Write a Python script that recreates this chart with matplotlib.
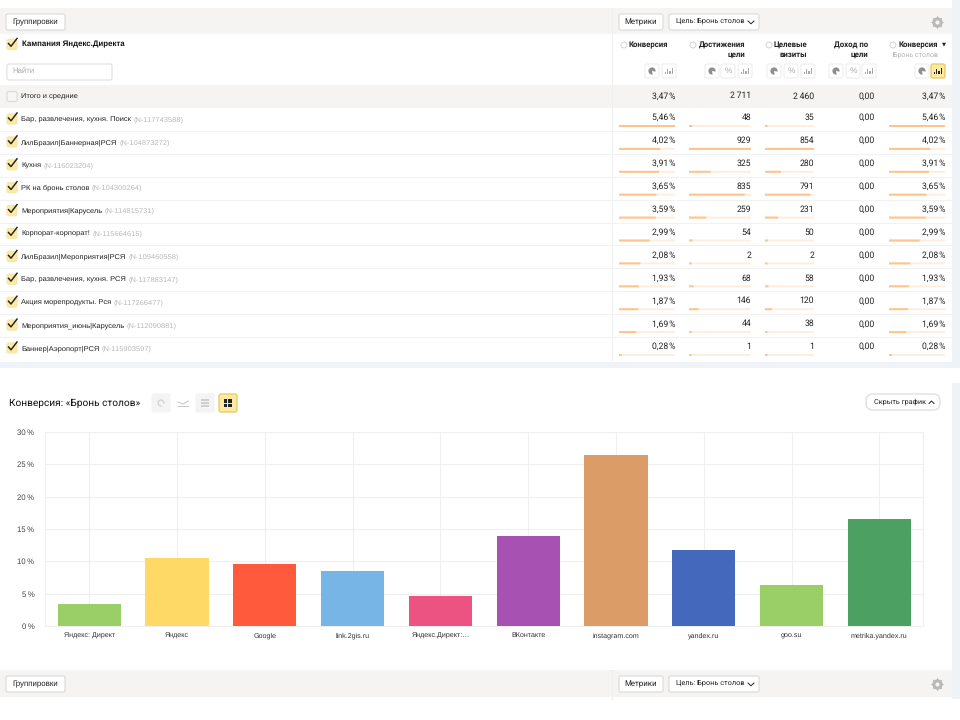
# -*- coding: utf-8 -*-
import matplotlib
matplotlib.use('Agg')
import matplotlib.pyplot as plt
from matplotlib.patches import FancyBboxPatch, Rectangle, Wedge, Circle

plt.rcParams['font.family'] = ['Liberation Sans', 'DejaVu Sans']
plt.rcParams['text.hinting'] = 'no_hinting'

# таблица
campaigns = ['Бар, развлечения, кухня. Поиск', 'ЛилБразил|Баннерная|РСЯ', 'Кухня', 'РК на бронь столов',
             'Мероприятия|Карусель', 'Корпорат-корпорат!', 'ЛилБразил|Мероприятия|РСЯ',
             'Бар, развлечения, кухня. РСЯ', 'Акция морепродукты. Рся', 'Мероприятия_июнь|Карусель',
             'Баннер|Аэропорт|РСЯ']
campaign_ids = ['N-117743588', 'N-104873272', 'N-116023204', 'N-104300264', 'N-114815731', 'N-115664615',
                'N-109460558', 'N-117883147', 'N-117266477', 'N-112090881', 'N-115903597']
conversion = [5.46, 4.02, 3.91, 3.65, 3.59, 2.99, 2.08, 1.93, 1.87, 1.69, 0.28]
goals = [48, 929, 325, 835, 259, 54, 2, 68, 146, 44, 1]
visits = [35, 854, 280, 791, 231, 50, 2, 58, 120, 38, 1]
income = [0, 0, 0, 0, 0, 0, 0, 0, 0, 0, 0]
total_conversion = 3.47
total_goals = 2711
total_visits = 2460
total_income = 0

# график
sources = ['Яндекс: Директ', 'Яндекс', 'Google', 'link.2gis.ru', 'Яндекс.Директ:…', 'ВКонтакте',
           'instagram.com', 'yandex.ru', 'goo.su', 'metrika.yandex.ru']
source_values = [3.47, 10.5, 9.6, 8.5, 4.6, 13.9, 26.4, 11.7, 6.3, 16.6]
source_colors = ['#99cf66', '#ffd966', '#ff5a3c', '#76b5e6', '#ec5383', '#a752b3', '#dc9c68', '#4468bb',
                 '#99cf66', '#4ca162']
y_ticks = [0, 5, 10, 15, 20, 25, 30]

GREY = '#f5f4f2'
BLUE = '#eff2f7'
YELLOW = '#fde9a0'
TEXT = '#222222'
NUM_FONT = ['Roboto', 'DejaVu Sans']


def pct(v):
    return ('%.2f' % v).replace('.', ',') + '\u200a%'


def thousands(v):
    return ('{:,}'.format(v)).replace(',', '\u2009')


def money(v):
    return ('%.2f' % v).replace('.', ',')


fig = plt.figure(figsize=(9.6, 7.2), dpi=100)

ui = fig.add_axes([0, 0, 1, 1], zorder=1)
ui.set_xlim(0, 960)
ui.set_ylim(720, 0)
ui.axis('off')


def band(x0, y0, x1, y1, color):
    ui.add_patch(Rectangle((x0, y0), x1 - x0, y1 - y0, fc=color, ec='none'))


def box(x0, y0, x1, y1, fc='white', ec='#dddddd', r=2):
    ui.add_patch(FancyBboxPatch((x0 + r, y0 + r), x1 - x0 - 2 * r, y1 - y0 - 2 * r,
                                boxstyle='round,pad=%s,rounding_size=%s' % (r, r),
                                fc=fc, ec=ec, lw=0.9, mutation_aspect=1))


def checkbox(x, y, checked=True):
    box(x - 5, y - 4.5, x + 5, y + 5.5, fc=YELLOW if checked else '#f6f6f6', ec='#f5e6b0' if checked else '#dddddd')
    if checked:
        ui.plot([x - 3.5, x - 1, x + 5], [y - 0.5, y + 2.3, y - 5.5], color='#222222', lw=1.05)


def chart_icon(x0, y0, size, kind, active=False):
    box(x0, y0, x0 + size, y0 + size, fc=YELLOW if active else 'white', ec='#e8c860' if active else '#f0f0f0')
    cx = x0 + size / 2
    cy = y0 + size / 2
    col = '#222222' if active else '#a8a8a8'
    if kind == 'pie':
        ui.add_patch(Wedge((cx, cy), 3.6, 80, 370, fc='#8f8f8f', ec='none'))
    elif kind == 'pct':
        ui.text(cx, cy, '%', fontsize=6, color='#aaaaaa', ha='center', va='center')
    else:
        for k, h in enumerate([2, 5, 3, 6]):
            ui.add_patch(Rectangle((cx - 4 + k * 2.2, cy + 3 - h), 1.2, h, fc=col, ec='none'))


def gear(x, y):
    ui.plot([x], [y], marker=(8, 1, 0), ms=10, color='#b9b9b9', mec='none')
    ui.plot([x], [y], marker='o', ms=7.5, color='#b9b9b9', mec='none')
    ui.plot([x], [y], marker='o', ms=3, color=GREY, mec='none')


# фон
band(952, 0, 960, 368, BLUE)
band(0, 362, 952, 368, BLUE)
band(0, 8, 952, 34, GREY)
band(0, 85, 952, 108, GREY)
band(952, 383, 960, 699, BLUE)
band(0, 670, 952, 697, GREY)
ui.plot([612, 612], [8, 360], color='#f0f0f0', lw=0.8)
ui.plot([612, 612], [670, 699], color='#f0f0f0', lw=0.8)

# верхняя панель
for top in (14, 676):
    box(6, top, 65, top + 16)
    ui.text(35.5, top + 8, 'Группировки', fontsize=5.7, color=TEXT, ha='center', va='center')
    box(619, top, 663, top + 16)
    ui.text(641, top + 8, 'Метрики', fontsize=5.7, color=TEXT, ha='center', va='center', family=NUM_FONT)
    box(669, top, 759, top + 16)
    ui.text(676, top + 8, 'Цель: Бронь столов', fontsize=5.3, color=TEXT, ha='left', va='center', family=NUM_FONT)
    ui.plot([748, 751, 754], [top + 7, top + 9.8, top + 7], color=TEXT, lw=0.7)
    gear(937, top + 8)

# шапка таблицы
checkbox(12, 44)
ui.text(22, 44.5, 'Кампания Яндекс.Директа', fontsize=5.7, fontweight='bold', color='#111111', va='center')
box(7, 64, 112, 80, ec='#e3e3e3')
ui.text(12, 72, 'Найти', fontsize=5.6, color='#aaaaaa', va='center')

col_right = [675, 751, 814, 875, 945]
head_right = [668, 745, 807, 868, 938]
head_lines = [['Конверсия'], ['Достижения', 'цели'], ['Целевые', 'визиты'], ['Доход по', 'цели'], ['Конверсия']]
head_help = [624, 693, 769, None, 893]
for i in range(5):
    for j, line in enumerate(head_lines[i]):
        ui.text(head_right[i], 45 + j * 9.5, line, fontsize=5.6, fontweight='bold', color='#222222', ha='right',
                va='center', family=NUM_FONT)
    if head_help[i]:
        ui.add_patch(Circle((head_help[i], 45), 3, fc='white', ec='#cccccc', lw=0.6))
ui.text(946, 44.5, '▼', fontsize=3.8, color='#222222', ha='right', va='center', family=['DejaVu Sans'])
ui.text(938, 55.5, 'Бронь столов', fontsize=5.0, color='#b5b5b5', ha='right', va='center', family=NUM_FONT)

icon_sets = [[(644, 'pie'), (661, 'bar')],
             [(704, 'pie'), (720, 'pct'), (737, 'bar')],
             [(766, 'pie'), (783, 'pct'), (800, 'bar')],
             [(828, 'pie'), (845, 'pct'), (861, 'bar')],
             [(914, 'pie'), (930, 'bar')]]
for n, icons in enumerate(icon_sets):
    for x0, kind in icons:
        chart_icon(x0 + 1, 64, 14, kind, active=(n == 4 and kind == 'bar'))

# итого
checkbox(12, 96, checked=False)
ui.text(21, 96.5, 'Итого и средние', fontsize=5.4, color=TEXT, va='center')
total_cells = [pct(total_conversion), thousands(total_goals), thousands(total_visits), money(total_income),
               pct(total_conversion)]
for i in range(5):
    ui.text(col_right[i], 96, total_cells[i], fontsize=6.2, color=TEXT, ha='right', va='center', family=NUM_FONT)

# строки
col_left = [619, 689, 765, None, 889]
col_values = [conversion, goals, visits, income, conversion]
row_h = 22.9
fig.canvas.draw()
renderer = fig.canvas.get_renderer()
for r in range(len(campaigns)):
    y = 119 + r * row_h
    if r < len(campaigns) - 1:
        ui.plot([0, 952], [y + 11.9, y + 11.9], color='#f2f2f2', lw=0.8)
    checkbox(12, y - 0.5)
    name = ui.text(21, y + 0.5, campaigns[r], fontsize=5.4, color=TEXT, va='center')
    ext = name.get_window_extent(renderer)
    ui.text(ext.x1 + 2.5, y + 0.5, '(' + campaign_ids[r] + ')', fontsize=5.4, color='#b8b8b8', va='center')
    cells = [pct(conversion[r]), thousands(goals[r]), thousands(visits[r]), money(income[r]), pct(conversion[r])]
    for i in range(5):
        ui.text(col_right[i], y - 1.3, cells[i], fontsize=6.2, color=TEXT, ha='right', va='center', family=NUM_FONT)
        if col_left[i] is not None:
            w = col_right[i] - col_left[i]
            ui.add_patch(Rectangle((col_left[i], y + 6), w, 2, fc='#ffeedd', ec='none', snap=False))
            ui.add_patch(Rectangle((col_left[i], y + 6), max(w * col_values[i][r] / max(col_values[i]), 2.5), 2,
                                   fc='#ffc48a', ec='none', snap=False))

# заголовок графика
ui.text(9, 403, 'Конверсия: «Бронь столов»', fontsize=7.3, color='#111111', va='center', family=NUM_FONT)
box(152, 394, 170, 412, fc='#f4f4f4', ec='#f4f4f4')
ui.add_patch(Wedge((161, 403), 3.6, 80, 370, width=1.4, fc='#d5d5d5', ec='none'))
ui.plot([178, 183, 188], [402, 404, 401], color='#c8c8c8', lw=0.8)
ui.plot([178, 188], [406, 406], color='#c8c8c8', lw=0.8)
box(196, 394, 214, 412, fc='#f4f4f4', ec='#f4f4f4')
for k in range(3):
    ui.add_patch(Rectangle((201, 399 + k * 3), 8, 2, fc='#cfcfcf', ec='none'))
box(219, 394, 237, 412, fc=YELLOW, ec='#e8c860')
for k in range(2):
    ui.add_patch(Rectangle((224 + k * 4.4, 398.5), 3.2, 8.5, fc='#222222', ec='none'))
ui.plot([223.5, 232.5], [402.5, 402.5], color=YELLOW, lw=0.7)

box(866, 394, 940, 410, ec='#dddddd', r=7)
ui.text(874, 402, 'Скрыть график', fontsize=5.2, color=TEXT, va='center', family=NUM_FONT)
ui.plot([929, 931.5, 934], [403.5, 401, 403.5], color=TEXT, lw=0.7)

# сам график
ax = fig.add_axes([45.4 / 960, (720 - 626) / 720, (923.2 - 45.4) / 960, (626 - 432) / 720], zorder=2)
ax.patch.set_alpha(0)
positions = list(range(len(sources)))
ax.bar(positions, source_values, width=0.72, color=source_colors, zorder=3)
ax.set_xlim(-0.5, len(sources) - 0.5)
ax.set_ylim(0, 30)
ax.set_yticks(y_ticks)
ax.set_yticklabels(['%d\u2009%%' % t for t in y_ticks], fontsize=5.6, color='#444444')
ax.set_xticks(positions)
ax.set_xticklabels(sources, fontsize=5.1, color='#333333', va='baseline')
ax.tick_params(length=0)
ax.tick_params(axis='y', pad=8)
ax.tick_params(axis='x', pad=8)
ax.grid(True, color='#efefef', lw=0.8, zorder=0)
ax.set_axisbelow(True)
for s in ax.spines.values():
    s.set_color('#efefef')
    s.set_linewidth(0.8)

fig.savefig('out.png', dpi=100)
